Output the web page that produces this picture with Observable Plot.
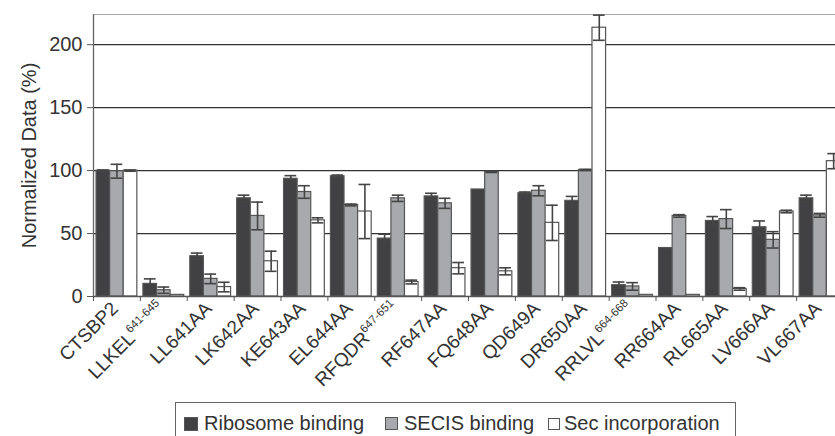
<!DOCTYPE html>
<html>
<head>
<meta charset="utf-8">
<script src="https://cdn.jsdelivr.net/npm/d3@7"></script>
<script src="https://cdn.jsdelivr.net/npm/@observablehq/plot@0.6"></script>
<style>
  html, body { margin: 0; padding: 0; background: #fff; overflow: hidden; }
  #wrap { position: relative; width: 835px; height: 436px; overflow: hidden; font-family: "Liberation Sans", Arial, Helvetica, sans-serif; }
  #legend { position: absolute; left: 175px; top: 402px; width: 561px; height: 60px; border: 1px solid #666; box-sizing: border-box; }
  .item { position: absolute; top: 8px; font-size: 20px; color: #333; white-space: nowrap; line-height: 24px; }
  .sw { position: absolute; box-sizing: border-box; border: 1px solid #555; }
</style>
</head>
<body>
<div id="wrap">
  <div id="chart"></div>
  <div id="legend"></div>
</div>
<script>
// ---- data ----
const categories = ["CTSBP2", "LLKEL^641-645", "LL641AA", "LK642AA", "KE643AA", "EL644AA",
  "RFQDR^647-651", "RF647AA", "FQ648AA", "QD649A", "DR650AA", "RRLVL^664-668",
  "RR664AA", "RL665AA", "LV666AA", "VL667AA"];
const seriesNames = ["Ribosome binding", "SECIS binding", "Sec incorporation"];
const ribosome    = [100, 10, 32, 78, 93.5, 95.5, 46, 79.5, 85, 82, 76, 9, 38.5, 60, 55, 78];
const ribosomeErr = [0.5, 4, 2.5, 2.5, 2.5, 1, 3.5, 2.5, 0, 1, 3.5, 2.5, 0, 3.5, 5, 2.5];
const secis       = [99.5, 5, 14, 64, 83, 72.7, 78, 74, 99, 84, 100.5, 8, 64, 61.5, 45, 64.5];
const secisErr    = [5.5, 2.5, 3.8, 11, 5, 0.7, 2.5, 4, 0.5, 4, 0.5, 3, 1, 7.5, 6.5, 1.5];
const secInc      = [100, 1.3, 7.5, 28, 60.5, 67.5, 11.5, 22.5, 20, 58.5, 213.5, 1.3, 1.3, 6, 67.5, 107.5];
const secIncErr   = [0.5, 0, 3.8, 8, 2, 21.5, 1.5, 4.5, 2.8, 14, 10, 0, 0, 1, 1, 6];
const yTicks = [0, 50, 100, 150, 200];

// ---- styles / layout ----
const fills = ["#414143", "#a8a9ac", "#ffffff"];
const strokeCol = "#555";
const groupPad = 0.065, barW = 0.29;
const W = 860, H = 400, ML = 93, MR = 17, MT = 14, MB = 104;
const yMax = 224;

const values = [ribosome, secis, secInc];
const errs = [ribosomeErr, secisErr, secIncErr];
const rows = [];
categories.forEach((c, i) => {
  seriesNames.forEach((s, k) => {
    const x1 = i + groupPad + k * barW;
    rows.push({cat: c, idx: i, series: s, k, value: values[k][i], err: errs[k][i],
      x1, x2: x1 + barW, xm: x1 + barW / 2});
  });
});
const errRows = rows.filter(d => d.err > 0);
const capInset = 0.02;

const plot = Plot.plot({
  width: W, height: H,
  marginLeft: ML, marginRight: MR, marginTop: MT, marginBottom: MB,
  style: {fontFamily: "'Liberation Sans', Arial, Helvetica, sans-serif", color: "#333", maxWidth: "none", overflow: "visible", background: "#fff"},
  x: {domain: [0, categories.length], axis: null},
  y: {domain: [0, yMax], axis: null},
  marks: [
    Plot.ruleY([yMax], {stroke: "#aaa", strokeWidth: 1.2}),
    Plot.ruleY(yTicks.filter(d => d > 0), {stroke: "#333", strokeWidth: 1.2}),
    Plot.rectY(rows, {x1: "x1", x2: "x2", y1: 0, y2: "value", fill: (d) => fills[d.k], stroke: strokeCol, strokeWidth: 1.2}),
    Plot.ruleX(errRows, {x: "xm", y1: d => d.value - d.err, y2: d => Math.min(yMax, d.value + d.err), stroke: "#444", strokeWidth: 1.6}),
    Plot.ruleY(errRows, {x1: d => d.x1 + capInset, x2: d => d.x2 - capInset, y: d => d.value - d.err, stroke: "#444", strokeWidth: 1.6}),
    Plot.ruleY(errRows, {x1: d => d.x1 + capInset, x2: d => d.x2 - capInset, y: d => Math.min(yMax, d.value + d.err), stroke: "#444", strokeWidth: 1.6}),
    Plot.ruleY([0], {stroke: "#555", strokeWidth: 1.3}),
    Plot.ruleX([0], {stroke: "#666", strokeWidth: 1.3}),
    Plot.axisY({ticks: yTicks, tickSize: 6, tickPadding: 5, fontSize: 20, stroke: "#555",
      label: "Normalized Data (%)", labelAnchor: "center", labelArrow: "none", labelOffset: 72}),
    Plot.axisX({ticks: d3.range(categories.length + 1), tickSize: 5, tickFormat: () => "", stroke: "#555", label: null}),
    Plot.axisX({ticks: d3.range(categories.length).map(i => i + 0.5), tickSize: 0, tickPadding: 9, dx: -2,
      tickRotate: -45, fontSize: 19, tickFormat: (v) => categories[Math.round(v - 0.5)], label: null})
  ]
});

// superscripts for the deletion ranges
plot.querySelectorAll("text").forEach(t => {
  const s = t.textContent;
  if (s.includes("^")) {
    const [a, b] = s.split("^");
    t.textContent = a;
    const sup = document.createElementNS("http://www.w3.org/2000/svg", "tspan");
    sup.setAttribute("font-size", "11.5");
    sup.setAttribute("dy", "-0.75em");
    sup.textContent = b;
    t.appendChild(sup);
  }
});
document.getElementById("chart").appendChild(plot);

// legend
const legend = document.getElementById("legend");
const legendItems = [
  {name: seriesNames[0], fill: fills[0], sx: 8, sy: 14, s: 14, tx: 28},
  {name: seriesNames[1], fill: fills[1], sx: 209, sy: 14, s: 13, tx: 228},
  {name: seriesNames[2], fill: fills[2], sx: 372, sy: 15, s: 12, tx: 388}
];
legendItems.forEach(it => {
  const sw = document.createElement("div");
  sw.className = "sw";
  Object.assign(sw.style, {left: it.sx + "px", top: it.sy + "px", width: it.s + "px", height: it.s + "px", background: it.fill});
  legend.appendChild(sw);
  const tx = document.createElement("div");
  tx.className = "item";
  tx.style.left = it.tx + "px";
  tx.textContent = it.name;
  legend.appendChild(tx);
});
</script>
</body>
</html>
